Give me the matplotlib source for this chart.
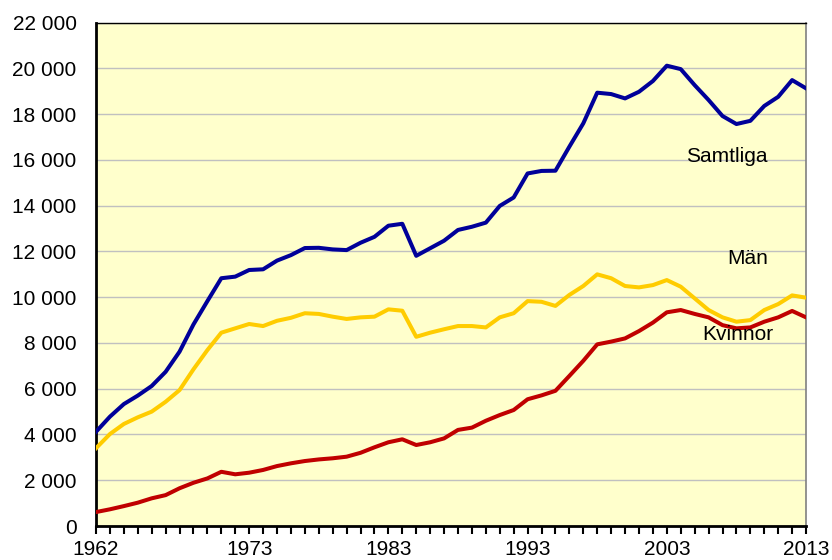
import numpy as np
import matplotlib
matplotlib.use('Agg')
import matplotlib.pyplot as plt
from matplotlib.ticker import FuncFormatter

########################################################################################################################
# data
########################################################################################################################
years = list(range(1962, 2014))

samtliga = [4120, 4780, 5330, 5700, 6120, 6740, 7620, 8810, 9830, 10830,
            10900, 11190, 11220, 11600, 11840, 12150, 12160, 12090, 12060, 12380,
            12640, 13125, 13210, 11810, 12140, 12470, 12940, 13080, 13260, 13990,
            14360, 15410, 15520, 15530, 16580, 17600, 18940, 18880, 18690, 18980,
            19450, 20120, 19970, 19270, 18620, 17920, 17570, 17710, 18360, 18760,
            19490, 19130]

man = [3400, 4020, 4460, 4750, 5000, 5430, 5940, 6850, 7690, 8450,
       8640, 8830, 8740, 8970, 9100, 9300, 9270, 9150, 9050, 9120,
       9150, 9470, 9410, 8270, 8450, 8600, 8740, 8740, 8680, 9120,
       9300, 9830, 9800, 9620, 10100, 10490, 11000, 10830, 10490, 10430,
       10530, 10750, 10460, 9950, 9440, 9120, 8930, 9000, 9440, 9700,
       10080, 9980]

kvinnor = [610, 730, 870, 1020, 1210, 1350, 1650, 1890, 2080, 2370,
           2260, 2330, 2450, 2620, 2740, 2840, 2910, 2960, 3030, 3200,
           3440, 3660, 3790, 3540, 3660, 3830, 4200, 4300, 4600, 4850,
           5070, 5540, 5710, 5910, 6560, 7220, 7940, 8060, 8200, 8520,
           8890, 9340, 9440, 9270, 9120, 8780, 8640, 8680, 8930, 9120,
           9400, 9120]

x_labels = [1962, 1973, 1983, 1993, 2003, 2013]
y_ticks = list(range(0, 22001, 2000))

########################################################################################################################
# plot
########################################################################################################################
plt.rcParams['font.family'] = ['Liberation Sans', 'DejaVu Sans']

fig = plt.figure(figsize=(8.32, 5.6), dpi=100)
ax = fig.add_axes([0.1154, 0.0607, 0.8534, 0.8988])
ax.set_facecolor('#FFFFCC')

ax.plot(years, samtliga, color='#000099', lw=2.9, solid_joinstyle='round', zorder=3)
ax.plot(years, man, color='#FFCC00', lw=2.9, solid_joinstyle='round', zorder=3)
ax.plot(years, kvinnor, color='#C00000', lw=2.9, solid_joinstyle='round', zorder=3)

ax.text(2007.3, 16130, 'Samtliga', fontsize=15, ha='center', va='center')
ax.text(2008.8, 11710, 'Män', fontsize=15, ha='center', va='center')
ax.text(2008.1, 8390, 'Kvinnor', fontsize=15, ha='center', va='center')

ax.set_xlim(1962, 2013)
ax.set_ylim(0, 22000)

ax.set_xticks(years, minor=True)
ax.set_xticks(x_labels)
ax.set_xticklabels([str(v) for v in x_labels])
ax.set_yticks(y_ticks)
ax.yaxis.set_major_formatter(FuncFormatter(lambda v, p: '{:,}'.format(int(v)).replace(',', ' ')))

ax.tick_params(axis='x', which='both', direction='out', length=6, width=1.5, labelsize=15, pad=4)
ax.tick_params(axis='y', direction='out', length=0, labelsize=15, pad=14)

ax.grid(axis='y', color='#C0C0C0', lw=1)
ax.set_axisbelow(True)

ax.spines['left'].set_linewidth(2)
ax.spines['bottom'].set_linewidth(2)
ax.spines['top'].set_linewidth(1)
ax.spines['right'].set_linewidth(1.2)
ax.spines['right'].set_color('#808080')

fig.savefig('out.png', dpi=100)
